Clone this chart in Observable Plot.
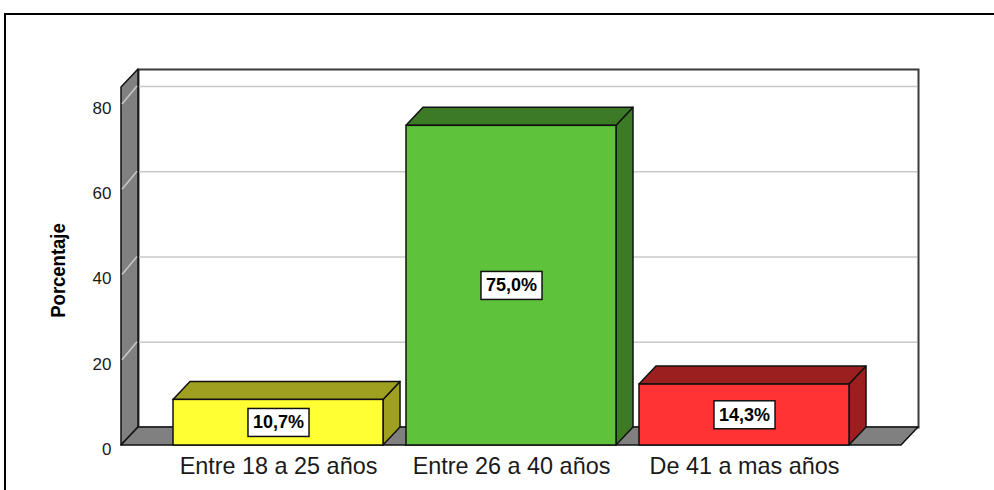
<!DOCTYPE html>
<html><head><meta charset="utf-8">
<script src="https://cdn.jsdelivr.net/npm/d3@7"></script>
<script src="https://cdn.jsdelivr.net/npm/@observablehq/plot@0.6"></script>
<style>
body{margin:0;background:#fff;}
#wrap{position:relative;width:994px;height:490px;overflow:hidden;font-family:"Liberation Sans",Arial,sans-serif;}
#border{position:absolute;left:4px;top:13px;width:1200px;height:600px;border-top:2px solid #000;border-left:2px solid #000;}
#chart{position:absolute;left:0;top:0;}
</style></head><body>
<div id="wrap"><div id="border"></div><div id="chart"></div></div>
<script>
const categories = ["Entre 18 a 25 años", "Entre 26 a 40 años", "De 41 a mas años"];
const percentages = [10.7, 75.0, 14.3];
const valueLabels = ["10,7%", "75,0%", "14,3%"];
const frontColors = ["#ffff33", "#5ec23a", "#ff3333"];
const sideColors = ["#a0a020", "#3c7a25", "#9c1f1f"];
const yTicks = [0, 20, 40, 60, 80];
const gridTicks = [20, 40, 60, 80];
const yTitle = "Porcentaje";

const data = categories.map((c, i) => ({cat: c, pct: percentages[i], label: valueLabels[i], front: frontColors[i], side: sideColors[i]}));

const DX = 17, DY = -18;
const NS = "http://www.w3.org/2000/svg";
function poly(pts, fill, stroke, sw) {
  const p = document.createElementNS(NS, "polygon");
  p.setAttribute("points", pts.map(d => d.join(",")).join(" "));
  p.setAttribute("fill", fill);
  p.setAttribute("stroke", stroke);
  p.setAttribute("stroke-width", sw);
  p.setAttribute("stroke-linejoin", "round");
  return p;
}
function line(x1, y1, x2, y2, stroke, sw) {
  const l = document.createElementNS(NS, "line");
  l.setAttribute("x1", x1); l.setAttribute("y1", y1);
  l.setAttribute("x2", x2); l.setAttribute("y2", y2);
  l.setAttribute("stroke", stroke); l.setAttribute("stroke-width", sw);
  return l;
}

// side wall + floor drawn from the scales
const walls = Plot.ruleY([0], {
  render(index, scales, values, dims) {
    const g = document.createElementNS(NS, "g");
    const x0 = dims.marginLeft, x1 = dims.width - dims.marginRight;
    const y0 = scales.y(0), yTop = dims.marginTop;
    g.appendChild(poly([[x0, y0], [x0, yTop], [x0 + DX, yTop + DY], [x0 + DX, y0 + DY]], "#808080", "#111", 1.5));
    for (const t of gridTicks) {
      const yy = scales.y(t);
      g.appendChild(line(x0 + 1, yy, x0 + DX - 1, yy + DY, "#c8c8c8", 1.5));
    }
    g.appendChild(poly([[x0, y0], [x1, y0], [x1 + DX, y0 + DY], [x0 + DX, y0 + DY]], "#808080", "#111", 1.5));
    return g;
  }
});

const chart = Plot.plot({
  width: 994,
  height: 490,
  marginLeft: 121,
  marginRight: 93,
  marginTop: 87,
  marginBottom: 45,
  style: {fontFamily: "'Liberation Sans', Arial, sans-serif", background: "transparent", color: "#111"},
  x: {domain: categories, paddingInner: 0.1, paddingOuter: 0.2167},
  y: {domain: [0, 84]},
  marks: [
    Plot.frame({dx: DX, dy: DY, fill: "white", stroke: "#3a3a3a", strokeWidth: 2}),
    Plot.ruleY(gridTicks, {dx: DX, dy: DY, stroke: "#c8c8c8", strokeWidth: 1.5, inset: 1}),
    walls,
    Plot.barY(data, {
      x: "cat", y: "pct", fill: "front", stroke: "#111", strokeWidth: 1.5,
      render(index, scales, values, dims, ctx, next) {
        const g = next(index, scales, values, dims, ctx);
        const rects = Array.from(g.querySelectorAll("rect"));
        rects.forEach((r, j) => {
          const d = data[index[j]];
          const x = +r.getAttribute("x"), y = +r.getAttribute("y");
          const w = +r.getAttribute("width"), h = +r.getAttribute("height");
          const side = poly([[x + w, y], [x + w + DX, y + DY], [x + w + DX, y + h + DY], [x + w, y + h]], d.side, "#111", 1.5);
          const top = poly([[x, y], [x + DX, y + DY], [x + w + DX, y + DY], [x + w, y]], d.side, "#111", 1.5);
          r.parentNode.insertBefore(side, r);
          r.parentNode.insertBefore(top, r);
        });
        return g;
      }
    }),
    Plot.text(data, {x: "cat", y: d => d.pct / 2, text: "label", fontWeight: "bold", fontSize: 18, fill: "#000", className: "vlabel"}),
    Plot.text([yTitle], {frameAnchor: "left", textAnchor: "middle", dx: -63, dy: 4, rotate: -90, fontWeight: "bold", fontSize: 21, fill: "#000", className: "ytitle"}),
    Plot.axisY({ticks: yTicks, tickSize: 0, tickPadding: 10, dy: 4, fontSize: 17, label: null, fill: "#1a1a1a"}),
    Plot.axisX({tickSize: 0, tickPadding: 12, fontSize: 23.4, label: null, fill: "#1a1a1a"})
  ]
});
document.getElementById("chart").appendChild(chart);

// condense the y title like the reference
chart.querySelectorAll("g.ytitle text").forEach(t => {
  const tr = t.getAttribute("transform") || "";
  t.setAttribute("transform", tr + " scale(0.88,1)");
});

// white boxes behind value labels
chart.querySelectorAll("g.vlabel text").forEach(t => {
  const b = t.getBBox();
  const r = document.createElementNS(NS, "rect");
  const px = 5, py = 4;
  r.setAttribute("x", b.x - px);
  r.setAttribute("y", b.y - py);
  r.setAttribute("width", b.width + 2 * px);
  r.setAttribute("height", b.height + 2 * py);
  r.setAttribute("fill", "#fff");
  r.setAttribute("stroke", "#111");
  r.setAttribute("stroke-width", 1.5);
  const tr = t.getAttribute("transform");
  if (tr) r.setAttribute("transform", tr);
  t.parentNode.insertBefore(r, t);
});
</script>
</body></html>
